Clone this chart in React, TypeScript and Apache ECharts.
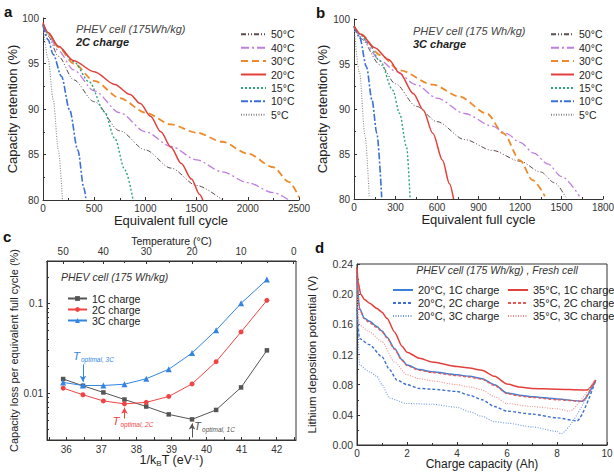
import React, { useEffect, useRef } from 'react';
import * as echarts from 'echarts';

const FONT = '"Liberation Sans", Arial, Helvetica, sans-serif';
const KB = 8.617333e-5;
const invKT = (tC: number) => 1 / (KB * (tC + 273.15));

// ---------------- Panel a : PHEV cell, 2C charge ----------------
const tempNames = ['50°C', '40°C', '30°C', '20°C', '15°C', '10°C', '5°C'];
const aCyc50 = [0, 50, 150, 300, 500, 750, 1000, 1250, 1500, 1750];
const aRet50 = [99.3, 98.0, 95.8, 93.2, 90.8, 87.6, 85.5, 83.5, 81.6, 80.0];
const aCyc40 = [0, 50, 150, 300, 500, 750, 1000, 1250, 1500, 1750, 2000, 2250, 2400];
const aRet40 = [99.2, 98.2, 96.4, 94.3, 92.0, 89.6, 87.5, 85.9, 84.4, 83.1, 81.9, 80.8, 80.0];
const aCyc30 = [0, 50, 150, 300, 500, 750, 1000, 1250, 1500, 1750, 2000, 2250, 2400, 2500];
const aRet30 = [99.3, 98.3, 96.8, 95.0, 93.1, 91.2, 89.6, 88.3, 87.4, 86.4, 85.1, 83.6, 82.0, 80.3];
const aCyc20 = [0, 50, 150, 300, 500, 700, 850, 950, 1050, 1150, 1250, 1350, 1450, 1530, 1560];
const aRet20 = [99.5, 98.4, 96.9, 95.3, 94.1, 92.7, 91.6, 90.6, 89.2, 87.5, 85.8, 84.0, 82.3, 80.6, 80.0];
const aCyc15 = [0, 50, 150, 300, 450, 600, 700, 800, 880];
const aRet15 = [99.3, 98.3, 96.9, 95.2, 93.0, 89.7, 86.8, 83.3, 80.0];
const aCyc10 = [0, 50, 100, 180, 260, 340, 400, 420];
const aRet10 = [99.2, 97.6, 96.0, 93.6, 89.9, 85.5, 81.3, 80.0];
const aCyc5 = [0, 50, 100, 150, 190];
const aRet5 = [99.3, 95.5, 91.0, 85.5, 80.0];

// ---------------- Panel b : PHEV cell, 3C charge ----------------
const bCyc50 = [0, 50, 190, 300, 450, 600, 800, 1000, 1200, 1350, 1450, 1530];
const bRet50 = [99.2, 97.8, 94.9, 92.8, 90.3, 88.6, 86.6, 85.4, 84.2, 83.0, 81.8, 80.2];
const bCyc40 = [0, 50, 190, 300, 450, 600, 800, 1000, 1100, 1200, 1300, 1400, 1500, 1630];
const bRet40 = [99.2, 98.0, 95.4, 94.2, 92.7, 91.2, 89.5, 88.1, 87.3, 86.3, 85.1, 83.9, 82.5, 80.3];
const bCyc30 = [0, 50, 190, 330, 570, 760, 960, 1080, 1200, 1290, 1380];
const bRet30 = [99.2, 98.3, 96.0, 94.3, 92.7, 91.4, 89.5, 87.3, 84.3, 82.1, 80.3];
const bCyc20 = [0, 50, 150, 250, 330, 430, 500, 570, 640, 690, 720];
const bRet20 = [99.2, 98.3, 96.8, 95.5, 94.0, 91.7, 89.9, 87.3, 84.3, 81.7, 80.0];
const bCyc15 = [0, 50, 100, 190, 280, 330, 380, 405];
const bRet15 = [99.2, 98.2, 97.4, 95.3, 92.1, 89.5, 85.8, 80.2];
const bCyc10 = [0, 40, 90, 130, 165, 200];
const bRet10 = [99.2, 98.0, 94.7, 91.0, 87.3, 80.2];
const bCyc5 = [0, 40, 80, 110];
const bRet5 = [99.2, 94.0, 87.0, 80.2];

// ---------------- Panel c : capacity loss vs 1/kBT ----------------
const cTemps = [50, 45, 40, 35, 30, 25, 20, 15, 10, 5];
const loss1C = [0.0144, 0.0121, 0.0102, 0.0085, 0.0071, 0.0058, 0.0051, 0.0065, 0.0116, 0.0301];
const loss2C = [0.0114, 0.0096, 0.0082, 0.0076, 0.0079, 0.0092, 0.0127, 0.0225, 0.0484, 0.109];
const loss3C = [0.0132, 0.0122, 0.0122, 0.0126, 0.0145, 0.0185, 0.0281, 0.0506, 0.101, 0.186];
const cSeriesNames = ['1C charge', '2C charge', '3C charge'];
const cBottomLabels = [36, 37, 38, 39, 40, 41, 42];
const cBottomTicks = [35.5, 36, 36.5, 37, 37.5, 38, 38.5, 39, 39.5, 40, 40.5, 41, 41.5, 42, 42.5];
const cTopTempLabels = [50, 40, 30, 20, 10, 0];
const cTopTempMinor = [45, 35, 25, 15, 5];
// optimal-temperature arrows: temperature, arrow start / end loss values
const optTemps = [20, 35, 45];
const optFrom = [0.0032, 0.0052, 0.021];
const optTo = [0.0046, 0.0069, 0.0134];
const optLabels = ['optimal, 1C', 'optimal, 2C', 'optimal, 3C'];

// ---------------- Panel d : lithium deposition potential ----------------
const dNames = ['20°C, 1C charge', '20°C, 2C charge', '20°C, 3C charge', '35°C, 1C charge', '35°C, 2C charge', '35°C, 3C charge'];
const d20_1x = [0, 0.1, 0.3, 0.5, 0.8, 1.0, 1.2, 1.5, 1.8, 2.0, 2.5, 3, 4, 4.5, 5, 5.5, 6, 6.5, 7, 8, 9, 9.55];
const d20_1y = [0.225, 0.181, 0.168, 0.164, 0.157, 0.151, 0.143, 0.128, 0.113, 0.106, 0.1, 0.097, 0.093, 0.091, 0.088, 0.08, 0.069, 0.066, 0.064, 0.061, 0.058, 0.086];
const d20_2x = [0, 0.1, 0.5, 1.0, 1.3, 1.6, 2.0, 2.5, 3, 4, 4.5, 5, 5.5, 6, 7, 8, 8.8, 9.55];
const d20_2y = [0.181, 0.141, 0.133, 0.117, 0.1, 0.086, 0.08, 0.075, 0.074, 0.071, 0.066, 0.06, 0.051, 0.045, 0.041, 0.036, 0.032, 0.086];
const d20_3x = [0, 0.1, 0.5, 0.8, 1.0, 1.3, 2.0, 3, 4, 4.5, 5, 5.5, 6, 7, 8, 8.15, 9.55];
const d20_3y = [0.21, 0.106, 0.097, 0.091, 0.08, 0.062, 0.055, 0.054, 0.05, 0.044, 0.038, 0.031, 0.029, 0.024, 0.018, 0.015, 0.086];
const d35_1x = [0, 0.05, 0.15, 0.3, 0.5, 0.8, 1.0, 1.2, 1.5, 1.8, 2.0, 2.5, 3, 4, 4.5, 5, 5.5, 6, 6.5, 7, 8, 9, 9.2, 9.55];
const d35_1y = [0.236, 0.215, 0.2, 0.193, 0.188, 0.181, 0.176, 0.168, 0.15, 0.131, 0.123, 0.115, 0.11, 0.104, 0.102, 0.099, 0.091, 0.081, 0.077, 0.075, 0.074, 0.073, 0.073, 0.086];
const d35_2x = [0, 0.1, 0.3, 0.5, 0.8, 1.0, 1.2, 1.5, 1.8, 2.0, 2.5, 3, 4, 4.5, 5, 5.5, 6, 6.5, 7, 8, 9, 9.5];
const d35_2y = [0.222, 0.18, 0.167, 0.162, 0.156, 0.15, 0.142, 0.127, 0.112, 0.105, 0.099, 0.096, 0.092, 0.09, 0.087, 0.079, 0.068, 0.065, 0.063, 0.06, 0.058, 0.085];
const d35_3x = [0, 0.1, 0.5, 1.0, 1.5, 2.0, 2.5, 3, 4, 4.5, 5, 5.5, 6, 7, 8, 8.5, 9.5];
const d35_3y = [0.2, 0.159, 0.15, 0.137, 0.11, 0.093, 0.088, 0.085, 0.08, 0.077, 0.073, 0.064, 0.055, 0.051, 0.048, 0.045, 0.086];

// ---------------- styles ----------------
const tempColors = ['#5d4c4c', '#c07ee0', '#ee8a2c', '#e2403c', '#2fa57a', '#3a70d8', '#8a8a8a'];
const tempDash: any[] = [[5, 2, 1, 2, 1, 2], [8, 3, 2, 3], [7, 4], 'solid', [2, 2], [7, 2, 2, 2], [1, 1.5]];
const tempWidth = [1, 1.3, 1.8, 1.5, 1.4, 1.6, 1.1];
const cColors = ['#555555', '#f04444', '#3385e0'];
const cSymbols = ['rect', 'circle', 'triangle'];
const cSymbolSizes = [4.5, 5, 6];
const dColors = ['#3b7fd6', '#3b6fd0', '#6f9bdc', '#e2403c', '#e85a56', '#ef8e8a'];
const dDash: any[] = ['solid', [3, 2], [1, 1.5], 'solid', [3, 2], [1, 1.5]];
const dWidth = [1.5, 1.4, 1.1, 1.5, 1.3, 1.1];

const pairs = (xs: number[], ys: number[]) => xs.map((x, i) => [x, ys[i]]);
const plain = (v: number) => String(v);

function axisBase(o: any) {
  const base: any = {
    type: 'value',
    nameLocation: 'middle',
    nameMoveOverlap: false,
    nameTextStyle: { fontSize: 13, color: '#222', fontFamily: FONT },
    axisLine: { show: true, onZero: false, lineStyle: { color: '#333', width: 1 } },
    axisTick: { show: true, inside: true, length: 3, lineStyle: { color: '#333', width: 1 } },
    minorTick: { show: false },
    axisLabel: { fontSize: 10, color: '#333', fontFamily: FONT, margin: 4, formatter: plain },
    splitLine: { show: false },
    minorSplitLine: { show: false },
  };
  for (const k of Object.keys(o)) {
    if (base[k] && typeof base[k] === 'object' && !Array.isArray(base[k]) && o[k] && typeof o[k] === 'object' && !Array.isArray(o[k])) {
      base[k] = { ...base[k], ...o[k] };
    } else {
      base[k] = o[k];
    }
  }
  return base;
}

const minor = { show: true, splitNumber: 2, length: 2, lineStyle: { color: '#333', width: 1 } };

function buildOption() {
  const aX = [aCyc50, aCyc40, aCyc30, aCyc20, aCyc15, aCyc10, aCyc5];
  const aY = [aRet50, aRet40, aRet30, aRet20, aRet15, aRet10, aRet5];
  const bX = [bCyc50, bCyc40, bCyc30, bCyc20, bCyc15, bCyc10, bCyc5];
  const bY = [bRet50, bRet40, bRet30, bRet20, bRet15, bRet10, bRet5];
  const cY = [loss1C, loss2C, loss3C];
  const dX = [d20_1x, d20_2x, d20_3x, d35_1x, d35_2x, d35_3x];
  const dY = [d20_1y, d20_2y, d20_3y, d35_1y, d35_2y, d35_3y];

  const series: any[] = [];
  const tempSeries = (xs: number[][], ys: number[][], axis: number) =>
    tempNames.forEach((n, i) => {
      series.push({
        type: 'line', name: n, xAxisIndex: axis, yAxisIndex: axis,
        data: pairs(xs[i], ys[i]), symbol: 'none', showSymbol: false,
        smooth: 0.3, smoothMonotone: 'x',
        lineStyle: { color: tempColors[i], type: tempDash[i], width: tempWidth[i] },
        itemStyle: { color: tempColors[i] },
        z: 2 + (i === 3 ? 1 : 0),
      });
    });
  tempSeries(aX, aY, 0);
  tempSeries(bX, bY, 1);

  cSeriesNames.forEach((n, i) => {
    series.push({
      type: 'line', name: n, xAxisIndex: 2, yAxisIndex: 2,
      data: cTemps.map((t, k) => [invKT(t), cY[i][k]]),
      symbol: cSymbols[i], symbolSize: cSymbolSizes[i], showSymbol: true,
      lineStyle: { color: cColors[i], width: 1 },
      itemStyle: { color: cColors[i] },
      z: 3 + i,
      markLine: {
        silent: true, symbol: ['none', 'arrow'], symbolSize: [5, 6], animation: false,
        label: { show: false },
        lineStyle: { color: cColors[i], width: 1, type: 'solid' },
        data: [[{ coord: [invKT(optTemps[i]), optFrom[i]] }, { coord: [invKT(optTemps[i]), optTo[i]] }]],
      },
    });
  });

  dNames.forEach((n, i) => {
    series.push({
      type: 'line', name: n, xAxisIndex: 5, yAxisIndex: 3,
      data: pairs(dX[i], dY[i]), symbol: 'none', showSymbol: false,
      smooth: 0.25, smoothMonotone: 'x',
      lineStyle: { color: dColors[i], type: dDash[i], width: dWidth[i] },
      itemStyle: { color: dColors[i] },
    });
  });

  const legendBase = (o: any) => ({
    orient: 'vertical', selectedMode: false, itemGap: 0, itemHeight: 10,
    itemStyle: { opacity: 0, borderWidth: 0 },
    textStyle: { fontSize: 10.5, color: '#222', fontFamily: FONT, lineHeight: 13.4 },
    ...o,
  });

  const ital = (o: any) => ({ type: 'text', silent: true, ...o });

  return {
    animation: false,
    backgroundColor: '#ffffff',
    textStyle: { fontFamily: FONT },
    grid: [
      { left: 43, top: 18, width: 256, height: 182, outerBoundsMode: 'none' },
      { left: 354, top: 19, width: 249, height: 180, outerBoundsMode: 'none' },
      { left: 47, top: 261, width: 249, height: 179, show: true, borderColor: '#333', borderWidth: 1, outerBoundsMode: 'none' },
      { left: 357, top: 264, width: 250, height: 181, show: true, borderColor: '#333', borderWidth: 1, outerBoundsMode: 'none' },
    ],
    xAxis: [
      axisBase({ gridIndex: 0, min: 0, max: 2500, interval: 500, name: 'Equivalent full cycle', nameGap: 14, minorTick: minor, axisLabel: { margin: 3, lineHeight: 10 } }),
      axisBase({ gridIndex: 1, min: 0, max: 1800, interval: 300, name: 'Equivalent full cycle', nameGap: 14, minorTick: minor, axisLabel: { margin: 3, lineHeight: 10 } }),
      axisBase({
        gridIndex: 2, min: 35.45, max: 42.55,
        name: '1/k{sub|B}T (eV{sup|-1})', nameGap: 13,
        nameTextStyle: {
          fontSize: 12.5,
          rich: {
            sub: { fontSize: 8, fontFamily: FONT, color: '#222', padding: [6, 0, 0, 0] },
            sup: { fontSize: 8, fontFamily: FONT, color: '#222', padding: [0, 0, 6, 0] },
          },
        },
        axisLabel: { customValues: cBottomLabels, lineHeight: 10 },
        axisTick: { customValues: cBottomTicks },
      }),
      axisBase({
        gridIndex: 2, position: 'top', min: 35.45, max: 42.55,
        name: 'Temperature (°C)', nameGap: 15, nameTextStyle: { fontSize: 10.5 },
        axisLabel: {
          customValues: cTopTempLabels.map(invKT), margin: 5,
          formatter: (v: number) => String(Math.round(1 / (KB * v) - 273.15)),
        },
        axisTick: { customValues: cTopTempLabels.map(invKT) },
      }),
      axisBase({
        gridIndex: 2, position: 'top', min: 35.45, max: 42.55,
        axisLabel: { show: false },
        axisTick: { customValues: cTopTempMinor.map(invKT), length: 2 },
      }),
      axisBase({
        gridIndex: 3, min: 0, max: 10, interval: 2, name: 'Charge capacity (Ah)', nameGap: 13,
        nameTextStyle: { fontSize: 12 }, axisLabel: { fontSize: 10, margin: 3, lineHeight: 10 }, minorTick: minor,
      }),
    ],
    yAxis: [
      axisBase({ gridIndex: 0, min: 80, max: 100, interval: 5, name: 'Capacity retention (%)', nameGap: 24, minorTick: minor }),
      axisBase({ gridIndex: 1, min: 80, max: 100, interval: 5, name: 'Capacity retention (%)', nameGap: 25, minorTick: minor }),
      axisBase({
        gridIndex: 2, type: 'log', logBase: 10, min: 0.003, max: 0.3,
        name: 'Capacity loss per equivalent full cycle (%)', nameGap: 28, nameTextStyle: { fontSize: 11 },
        axisLabel: { showMinLabel: false, showMaxLabel: false, formatter: (v: number) => String(Number(Number(v).toPrecision(2))) },
        minorTick: { show: true, splitNumber: 9, length: 2, lineStyle: { color: '#333', width: 1 } },
      }),
      axisBase({
        gridIndex: 3, min: 0, max: 0.24, interval: 0.04, name: 'Lithium deposition potential (V)', nameGap: 39,
        nameTextStyle: { fontSize: 11.5 },
        axisLabel: { fontSize: 10.5, formatter: (v: number) => Number(v).toFixed(2) }, minorTick: minor,
      }),
    ],
    legend: [
      legendBase({ data: tempNames, left: 235, top: 22.6, itemWidth: 25 }),
      legendBase({ data: tempNames, left: 545, top: 22.6, itemWidth: 23 }),
      legendBase({ data: cSeriesNames, left: 62, top: 288, itemWidth: 19, itemHeight: 6, itemStyle: {}, textStyle: { fontSize: 10.5, color: '#222', fontFamily: FONT, lineHeight: 10.5 } }),
      legendBase({ data: dNames.slice(0, 3), left: 387, top: 278.5, itemWidth: 20, textStyle: { fontSize: 11, color: '#222', fontFamily: FONT, lineHeight: 13 } }),
      legendBase({ data: dNames.slice(3), left: 502, top: 278.5, itemWidth: 20, textStyle: { fontSize: 11, color: '#222', fontFamily: FONT, lineHeight: 13 } }),
    ],
    series,
    graphic: [
      ital({ left: 4, top: 4, style: { text: 'a', fontSize: 15, fontWeight: 'bold', fontFamily: FONT, fill: '#111' } }),
      ital({ left: 316, top: 5, style: { text: 'b', fontSize: 15, fontWeight: 'bold', fontFamily: FONT, fill: '#111' } }),
      ital({ left: 3, top: 229, style: { text: 'c', fontSize: 15, fontWeight: 'bold', fontFamily: FONT, fill: '#111' } }),
      ital({ left: 315, top: 240, style: { text: 'd', fontSize: 15, fontWeight: 'bold', fontFamily: FONT, fill: '#111' } }),
      ital({ left: 76, top: 23, style: { text: 'PHEV cell (175Wh/kg)', fontSize: 11, fontStyle: 'italic', fontFamily: FONT, fill: '#444' } }),
      ital({ left: 76, top: 36, style: { text: '2C charge', fontSize: 11, fontStyle: 'italic', fontWeight: 'bold', fontFamily: FONT, fill: '#222' } }),
      ital({ left: 413, top: 25, style: { text: 'PHEV cell (175 Wh/kg)', fontSize: 11, fontStyle: 'italic', fontFamily: FONT, fill: '#444' } }),
      ital({ left: 413, top: 38, style: { text: '3C charge', fontSize: 11, fontStyle: 'italic', fontWeight: 'bold', fontFamily: FONT, fill: '#222' } }),
      ital({ left: 61, top: 271, style: { text: 'PHEV cell (175 Wh/kg)', fontSize: 10.5, fontStyle: 'italic', fontFamily: FONT, fill: '#333' } }),
      ital({ x: 497, y: 270, style: { text: 'PHEV cell (175 Wh/kg) , Fresh cell', fontSize: 10.5, fontStyle: 'italic', fontFamily: FONT, fill: '#333', align: 'center', verticalAlign: 'middle' } }),
    ],
  };
}

export default function App() {
  const ref = useRef<HTMLDivElement>(null);
  useEffect(() => {
    if (!ref.current) return;
    const chart = echarts.init(ref.current, null, { renderer: 'svg' });
    const option: any = buildOption();
    chart.setOption(option);
    // optimal temperature labels, positioned from the arrow start through the axes' scales
    const offs = [[2, -11], [-12, 2], [-10, -8]];
    const extra = optTemps.map((t, i) => {
      const p = chart.convertToPixel({ xAxisIndex: 2, yAxisIndex: 2 }, [invKT(t), optFrom[i]]) as number[];
      return {
        type: 'text', silent: true,
        x: p[0] + offs[i][0], y: p[1] + offs[i][1],
        style: {
          text: '{t|T}{s|' + optLabels[i] + '}',
          verticalAlign: 'middle', align: 'left',
          rich: {
            t: { fontSize: 11.5, fontStyle: 'italic', fontFamily: FONT, fill: cColors[i] },
            s: { fontSize: 6.5, fontStyle: 'italic', fontFamily: FONT, fill: cColors[i], padding: [7, 0, 0, 1] },
          },
        },
      };
    });
    chart.setOption({ graphic: [...option.graphic, ...extra] });
    return () => chart.dispose();
  }, []);
  return (
    <div
      ref={ref}
      style={{ position: 'absolute', left: 0, top: 0, width: 614, height: 476, background: '#fff' }}
    />
  );
}
